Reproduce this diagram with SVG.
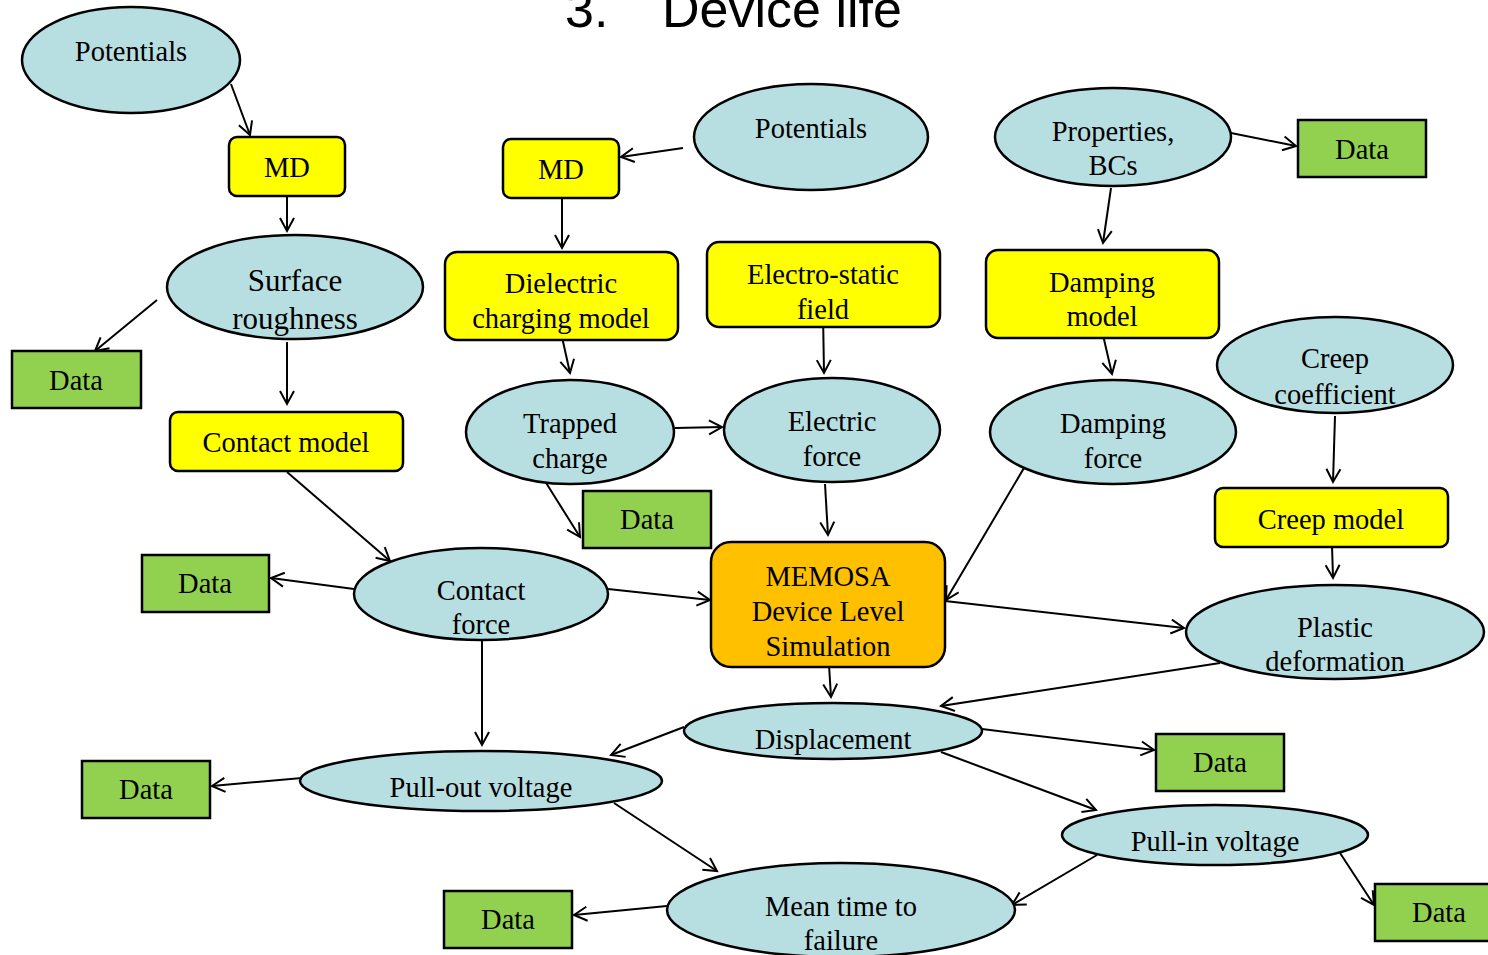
<svg xmlns="http://www.w3.org/2000/svg" width="1488" height="955" viewBox="0 0 1488 955">
<style>
.e{fill:#B7DFE2;stroke:#000;stroke-width:2.5}
.y{fill:#FFFF00;stroke:#000;stroke-width:2.5}
.g{fill:#92D050;stroke:#000;stroke-width:2.5}
.o{fill:#FFC000;stroke:#000;stroke-width:2.5}
text{font-family:"Liberation Serif","Times New Roman",serif;font-size:28.5px;fill:#000;text-anchor:middle}
.t{font-family:"Liberation Sans",Arial,sans-serif;font-size:52px;text-anchor:start}
#conn line{stroke:#000;stroke-width:2;fill:none;marker-end:url(#a)}
</style>
<defs>
<marker id="a" markerUnits="userSpaceOnUse" markerWidth="20" markerHeight="20" refX="14" refY="8" orient="auto" viewBox="0 0 20 16">
<path d="M1,1 L14,8 L1,15" fill="none" stroke="#000" stroke-width="2"/>
</marker>
</defs>
<g id="title"><text class="t" x="565" y="27">3.</text><text class="t" x="662" y="27">Device life</text></g>

<g id="conn">
<line x1="231" y1="84" x2="250" y2="135"/>
<line x1="287" y1="197" x2="287" y2="231"/>
<line x1="157" y1="300" x2="95" y2="351"/>
<line x1="287" y1="342" x2="287" y2="404"/>
<line x1="287" y1="472" x2="390" y2="561"/>
<line x1="683" y1="148" x2="621" y2="157"/>
<line x1="562" y1="198" x2="562" y2="248"/>
<line x1="562" y1="337" x2="570" y2="373"/>
<line x1="823" y1="313" x2="824" y2="373"/>
<line x1="675" y1="428" x2="722" y2="427"/>
<line x1="543" y1="478" x2="580" y2="537"/>
<line x1="825" y1="484" x2="828" y2="535"/>
<line x1="1231" y1="133" x2="1296" y2="146"/>
<line x1="1111" y1="188" x2="1103" y2="243"/>
<line x1="1103" y1="335" x2="1112" y2="374"/>
<line x1="1024" y1="468" x2="946" y2="600"/>
<line x1="1335" y1="416" x2="1333" y2="482"/>
<line x1="1332" y1="545" x2="1333" y2="578"/>
<line x1="354" y1="589" x2="271" y2="578"/>
<line x1="608" y1="589" x2="710" y2="600"/>
<line x1="482" y1="640" x2="482" y2="745"/>
<line x1="945" y1="601" x2="1184" y2="628"/>
<line x1="829" y1="665" x2="831" y2="697"/>
<line x1="1220" y1="663" x2="941" y2="706"/>
<line x1="684" y1="727" x2="611" y2="755"/>
<line x1="982" y1="729" x2="1154" y2="750"/>
<line x1="941" y1="752" x2="1096" y2="810"/>
<line x1="302" y1="778" x2="212" y2="786"/>
<line x1="614" y1="803" x2="717" y2="871"/>
<line x1="1097" y1="855" x2="1012" y2="905"/>
<line x1="1340" y1="853" x2="1374" y2="905"/>
<line x1="667" y1="906" x2="574" y2="915"/>
</g>

<g id="potentials1"><ellipse class="e" cx="131" cy="60" rx="109" ry="53"/><text x="131" y="61">Potentials</text></g>
<g id="md1"><rect class="y" x="229" y="137" width="116" height="59" rx="8"/><text x="287" y="177">MD</text></g>
<g id="surface"><ellipse class="e" cx="295" cy="287" rx="128" ry="52"/><text x="295" y="291" style="font-size:31px">Surface</text><text x="295" y="329" style="font-size:31px">roughness</text></g>
<g id="data1"><rect class="g" x="12" y="351" width="129" height="57"/><text x="76" y="390">Data</text></g>
<g id="contactmodel"><rect class="y" x="170" y="412" width="233" height="59" rx="8"/><text x="286" y="452">Contact model</text></g>
<g id="md2"><rect class="y" x="503" y="139" width="116" height="59" rx="8"/><text x="561" y="179">MD</text></g>
<g id="potentials2"><ellipse class="e" cx="811" cy="137" rx="117" ry="53"/><text x="811" y="138">Potentials</text></g>
<g id="properties"><ellipse class="e" cx="1113" cy="137" rx="118" ry="49"/><text x="1113" y="141">Properties,</text><text x="1113" y="175">BCs</text></g>
<g id="data2"><rect class="g" x="1298" y="120" width="128" height="57"/><text x="1362" y="159">Data</text></g>
<g id="dielectric"><rect class="y" x="445" y="252" width="233" height="88" rx="12"/><text x="561" y="293">Dielectric</text><text x="561" y="328">charging model</text></g>
<g id="electrostatic"><rect class="y" x="707" y="242" width="233" height="85" rx="12"/><text x="823" y="284">Electro-static</text><text x="823" y="319">field</text></g>
<g id="dampingmodel"><rect class="y" x="986" y="250" width="233" height="88" rx="12"/><text x="1102" y="292">Damping</text><text x="1102" y="326">model</text></g>
<g id="creepcoef"><ellipse class="e" cx="1335" cy="365" rx="118" ry="48"/><text x="1335" y="368">Creep</text><text x="1335" y="404">coefficient</text></g>
<g id="trapped"><ellipse class="e" cx="570" cy="432" rx="104" ry="52"/><text x="570" y="433">Trapped</text><text x="570" y="468">charge</text></g>
<g id="electricforce"><ellipse class="e" cx="832" cy="430" rx="108" ry="52"/><text x="832" y="431">Electric</text><text x="832" y="466">force</text></g>
<g id="dampingforce"><ellipse class="e" cx="1113" cy="432" rx="123" ry="52"/><text x="1113" y="433">Damping</text><text x="1113" y="468">force</text></g>
<g id="data3"><rect class="g" x="583" y="491" width="128" height="57"/><text x="647" y="529">Data</text></g>
<g id="creepmodel"><rect class="y" x="1215" y="488" width="233" height="59" rx="8"/><text x="1331" y="529">Creep model</text></g>
<g id="data4"><rect class="g" x="142" y="555" width="127" height="57"/><text x="205" y="593">Data</text></g>
<g id="contactforce"><ellipse class="e" cx="481" cy="594" rx="127" ry="46"/><text x="481" y="600">Contact</text><text x="481" y="634">force</text></g>
<g id="memosa"><rect class="o" x="711" y="542" width="234" height="125" rx="20"/><text x="828" y="586">MEMOSA</text><text x="828" y="621">Device Level</text><text x="828" y="656">Simulation</text></g>
<g id="plastic"><ellipse class="e" cx="1335" cy="632" rx="149" ry="47"/><text x="1335" y="637">Plastic</text><text x="1335" y="671">deformation</text></g>
<g id="displacement"><ellipse class="e" cx="833" cy="731" rx="149" ry="28"/><text x="833" y="749">Displacement</text></g>
<g id="data5"><rect class="g" x="1156" y="734" width="128" height="57"/><text x="1220" y="772">Data</text></g>
<g id="data6"><rect class="g" x="82" y="761" width="128" height="57"/><text x="146" y="799">Data</text></g>
<g id="pullout"><ellipse class="e" cx="481" cy="781" rx="181" ry="30"/><text x="481" y="797">Pull-out voltage</text></g>
<g id="pullin"><ellipse class="e" cx="1215" cy="835" rx="153" ry="30"/><text x="1215" y="851">Pull-in voltage</text></g>
<g id="data7"><rect class="g" x="1375" y="884" width="117" height="57"/><text x="1439" y="922">Data</text></g>
<g id="data8"><rect class="g" x="444" y="891" width="128" height="57"/><text x="508" y="929">Data</text></g>
<g id="mttf"><ellipse class="e" cx="841" cy="910" rx="174" ry="47"/><text x="841" y="916">Mean time to</text><text x="841" y="950">failure</text></g>
</svg>
